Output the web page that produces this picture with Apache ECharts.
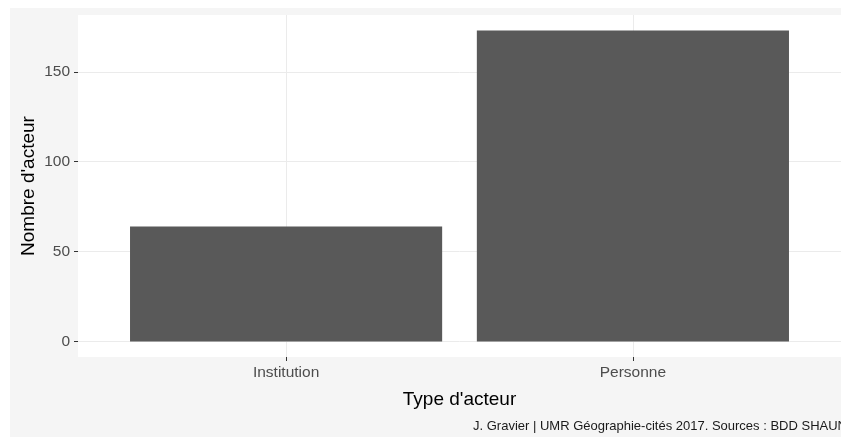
<!DOCTYPE html>
<html>
<head>
<meta charset="utf-8">
<script src="https://cdn.jsdelivr.net/npm/echarts@6/dist/echarts.min.js"></script>
<style>
  html, body { margin: 0; padding: 0; background: #ffffff; }
  #bg { position: absolute; left: 10px; top: 8px; width: 831px; height: 429px; background: #f5f5f5; }
  #chart { position: absolute; left: 0; top: 0; width: 841px; height: 437px; }
</style>
</head>
<body>
<div id="bg"></div>
<div id="chart"></div>
<script>
// ---- data ----
const categories = ['Institution', 'Personne'];
const counts = [64, 173];
const yTicks = [0, 50, 100, 150];
const xTitle = "Type d'acteur";
const yTitle = "Nombre d'acteur";
const caption = 'J. Gravier | UMR Géographie-cités 2017. Sources : BDD SHAUN';

// ggplot-like expansions
const catPositions = categories.map((c, i) => i + 1);
const maxVal = Math.max(...counts);
const yMin = -0.05 * maxVal;
const yMax = 1.05 * maxVal;
const xMin = 1 - 0.6;
const xMax = categories.length + 0.6;

const chart = echarts.init(document.getElementById('chart'), null, { renderer: 'canvas' });
const font = "'Liberation Sans', Arial, sans-serif";

chart.setOption({
  backgroundColor: 'transparent',
  animation: false,
  grid: {
    left: 78, top: 15, width: 767, height: 342,
    show: true, backgroundColor: '#ffffff', borderWidth: 0
  },
  xAxis: {
    type: 'value',
    min: xMin, max: xMax,
    name: xTitle,
    nameLocation: 'middle',
    nameGap: 33,
    nameMoveOverlap: false,
    nameTextStyle: { color: '#000000', fontSize: 19, fontFamily: font },
    axisLine: { show: false, onZero: false },
    axisTick: { show: true, customValues: catPositions, length: 4, lineStyle: { color: '#333333', width: 1 } },
    axisLabel: {
      customValues: catPositions,
      formatter: v => categories[Math.round(v) - 1],
      color: '#4d4d4d', fontSize: 15.5, fontFamily: font, margin: 8
    },
    splitLine: { show: true, lineStyle: { color: '#ebebeb', width: 1 } }
  },
  yAxis: {
    type: 'value',
    min: yMin, max: yMax,
    name: yTitle,
    nameLocation: 'middle',
    nameGap: 40,
    nameMoveOverlap: false,
    nameRotate: 90,
    nameTextStyle: { color: '#000000', fontSize: 19, fontFamily: font },
    axisLine: { show: false, onZero: false },
    axisTick: { show: true, customValues: yTicks, length: 4, lineStyle: { color: '#333333', width: 1 } },
    axisLabel: {
      customValues: yTicks,
      color: '#4d4d4d', fontSize: 15.5, fontFamily: font, margin: 8
    },
    splitLine: { show: true, lineStyle: { color: '#ebebeb', width: 1 } }
  },
  series: [{
    type: 'bar',
    data: catPositions.map((p, i) => [p, counts[i]]),
    barWidth: '90%',
    itemStyle: { color: '#595959' },
    silent: true
  }],
  graphic: [{
    type: 'text',
    left: 473, top: 420,
    style: { text: caption, fill: '#1a1a1a', font: '13px ' + font }
  }]
});
</script>
</body>
</html>
